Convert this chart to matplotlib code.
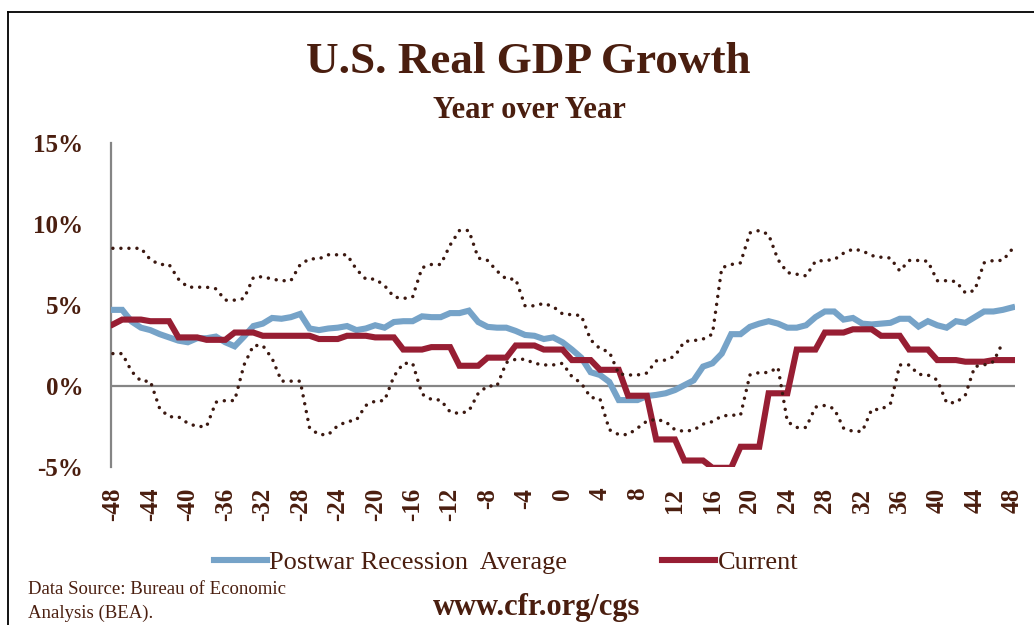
import numpy as np
import matplotlib
matplotlib.use("Agg")
from matplotlib import pyplot as plt
from matplotlib.lines import Line2D

# months from the start of the recession
months = list(range(-48, 49))

postwar_avg = [
    4.7, 4.7, 3.98, 3.6, 3.45, 3.2, 3.0, 2.8, 2.7, 2.95,
    2.95, 3.05, 2.7, 2.45, 3.05, 3.7, 3.85, 4.2, 4.15, 4.25,
    4.45, 3.55, 3.45, 3.55, 3.6, 3.7,
    3.45, 3.55, 3.75, 3.6, 3.95, 4.0, 4.0, 4.3, 4.25, 4.25,
    4.5, 4.5, 4.65, 3.95, 3.65, 3.6, 3.6, 3.4, 3.15, 3.1,
    2.9, 3.0, 2.7, 2.25,
    1.75, 0.85, 0.68, 0.25, -0.87, -0.87, -0.87, -0.62, -0.55, -0.45,
    -0.25, 0.05, 0.35, 1.2, 1.4, 2.0, 3.2, 3.2, 3.65, 3.85,
    4.0, 3.85, 3.6, 3.6, 3.75,
    4.25, 4.6, 4.6, 4.1, 4.2, 3.85, 3.8, 3.85, 3.9, 4.15,
    4.15, 3.67, 4.0, 3.75, 3.6, 4.0, 3.9, 4.25, 4.6, 4.6,
    4.7, 4.85,
]

current = [
    3.8,
    4.1, 4.1, 4.1, 4.0, 4.0, 4.0, 3.0, 3.0, 3.0,
    2.85, 2.85, 2.85, 3.3, 3.3, 3.3, 3.1, 3.1, 3.1,
    3.1, 3.1, 3.1, 2.9, 2.9, 2.9, 3.1, 3.1, 3.1,
    3.0, 3.0, 3.0, 2.25, 2.25, 2.25, 2.4, 2.4, 2.4,
    1.25, 1.25, 1.25, 1.75, 1.75, 1.75, 2.5, 2.5, 2.5,
    2.25, 2.25, 2.25, 1.6, 1.6, 1.6, 1.0, 1.0, 1.0,
    -0.6, -0.6, -0.6, -3.3, -3.3, -3.3, -4.6, -4.6, -4.6,
    -5.05, -5.05, -5.05, -3.75, -3.75, -3.75, -0.45, -0.45, -0.45,
    2.25, 2.25, 2.25, 3.3, 3.3, 3.3, 3.5, 3.5, 3.5,
    3.1, 3.1, 3.1, 2.25, 2.25, 2.25, 1.6, 1.6, 1.6,
    1.5, 1.5, 1.5, 1.6, 1.6, 1.6,
]

upper_range = [
    8.5, 8.5, 8.5, 8.5, 7.8, 7.5, 7.5, 6.6, 6.1, 6.1,
    6.1, 6.0, 5.3, 5.3, 5.4, 6.7, 6.75, 6.6, 6.5, 6.5,
    7.5, 7.85, 7.85, 8.1, 8.1, 8.1, 7.2, 6.6, 6.6, 6.2,
    5.5, 5.4, 5.5, 7.3, 7.5, 7.5, 8.7, 9.6, 9.6, 7.9,
    7.75, 7.1, 6.6, 6.6, 4.95, 4.95, 5.1, 4.9, 4.45, 4.4,
    4.35, 2.85, 2.3, 2.1, 0.75, 0.68, 0.68, 0.8, 1.55, 1.6,
    1.85, 2.75, 2.8, 2.9, 3.2, 7.3, 7.5, 7.6, 9.45, 9.6,
    9.35, 7.8, 7.0, 6.9, 6.8, 7.7, 7.75, 7.8, 8.2, 8.45,
    8.35, 8.05, 7.95, 7.9, 7.1, 7.75, 7.75, 7.7, 6.5, 6.5,
    6.45, 5.75, 5.9, 7.6, 7.75, 7.75, 8.45,
]

lower_range = [
    2.0, 2.0, 0.9, 0.3, 0.3, -1.4, -1.9, -1.9, -2.3, -2.5,
    -2.5, -1.0, -0.9, -0.9, 1.3, 2.5, 2.5, 1.7, 0.3, 0.3,
    0.3, -2.6, -3.0, -3.0, -2.45, -2.2, -2.1, -1.2, -0.93, -0.9,
    0.6, 1.4, 1.4, -0.5, -0.83, -0.87, -1.6, -1.7, -1.55, -0.45,
    0.0, 0.0, 1.45, 1.65, 1.65, 1.4, 1.3, 1.3, 1.4, 0.58,
    0.17, -0.7, -0.8, -2.7, -3.0, -3.0, -2.6, -2.17, -2.06, -2.2,
    -2.7, -2.8, -2.72, -2.35, -2.2, -1.85, -1.8, -1.8, 0.68, 0.83,
    0.83, 1.15, -2.2, -2.56, -2.56, -1.3, -1.2, -1.4, -2.6, -2.8,
    -2.8, -1.45, -1.45, -1.1, 1.3, 1.3, 0.72, 0.68, 0.37, -1.03,
    -1.03, -0.56, 1.2, 1.3, 1.5, 2.7, np.nan,
]

x_ticks = list(range(-48, 49, 4))
y_ticks = [-5, 0, 5, 10, 15]

TEXT = "#4a1e0f"
BLUE = "#76a3c8"
RED = "#971e33"
DOTS = "#3b1810"

plt.rcParams["font.family"] = ["Liberation Serif", "DejaVu Serif"]

W, H = 1034, 625
fig = plt.figure(figsize=(W / 100, H / 100), dpi=100)
ax = fig.add_axes([111 / W, 1 - 467 / H, (1015 - 111) / W, (467 - 143) / H])

ax.axhline(0, color="#858585", lw=1.6, zorder=1)
ax.plot(months, postwar_avg, color=BLUE, lw=4.4, solid_joinstyle="miter",
        label="Postwar Recession  Average", zorder=3)
ax.plot(months, current, color=RED, lw=4.4, solid_joinstyle="miter",
        label="Current", zorder=4)
for band in (upper_range, lower_range):
    ax.plot(months, band, color=DOTS, lw=2.5, linestyle=(0, (0.01, 2.3)),
            dash_capstyle="round", zorder=5)

ax.set_xlim(-48.2, 48.3)
ax.set_ylim(-5, 15)
ax.set_xticks(x_ticks)
ax.set_xticklabels([str(t) for t in x_ticks], rotation=90)
ax.set_yticks(y_ticks)
ax.set_yticklabels([f"{t}%" for t in y_ticks])
ax.tick_params(axis="both", length=0, labelcolor=TEXT, labelsize=18)
ax.tick_params(axis="y", pad=20)
ax.tick_params(axis="x", pad=15)
for lab in ax.get_xticklabels() + ax.get_yticklabels():
    lab.set_fontweight("bold")

for side in ("top", "right", "bottom"):
    ax.spines[side].set_visible(False)
ax.spines["left"].set_color("#858585")
ax.spines["left"].set_linewidth(1.6)

fig.text(528 / W, 1 - 73 / H, "U.S. Real GDP Growth", ha="center", va="baseline",
         fontsize=32.5, fontweight="bold", color=TEXT)
fig.text(529 / W, 1 - 118 / H, "Year over Year", ha="center", va="baseline",
         fontsize=22, fontweight="bold", color=TEXT)

leg = fig.legend(loc="center", bbox_to_anchor=(506 / W, 1 - 562 / H), ncol=2,
                 frameon=False, fontsize=19, handlelength=2.0, handletextpad=0.1,
                 columnspacing=3.6, borderpad=0)
for t in leg.get_texts():
    t.set_color(TEXT)

fig.text(28 / W, 1 - 594 / H, "Data Source: Bureau of Economic", fontsize=13.5,
         color=TEXT, va="baseline")
fig.text(28 / W, 1 - 618 / H, "Analysis (BEA).", fontsize=13.5, color=TEXT, va="baseline")
fig.text(537 / W, 1 - 615 / H, "www.cfr.org/cgs", ha="center", va="baseline",
         fontsize=22, fontweight="bold", color=TEXT)

# outer frame (top and left edges only)
fig.add_artist(Line2D([8 / W, 8 / W], [0, 1 - 12 / H], transform=fig.transFigure,
                      color="black", lw=1.3))
fig.add_artist(Line2D([8 / W, 1], [1 - 12 / H, 1 - 12 / H], transform=fig.transFigure,
                      color="black", lw=1.3))

fig.savefig("out.png", dpi=100)
